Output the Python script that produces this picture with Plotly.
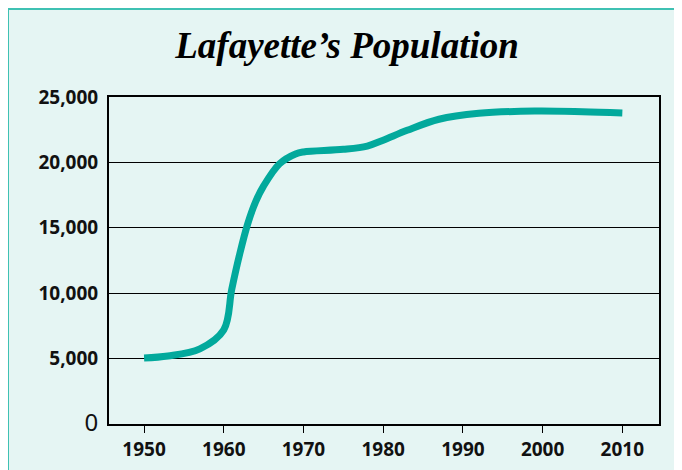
import plotly.graph_objects as go

years = [1950, 1953, 1957, 1960, 1961, 1962, 1963, 1964, 1965, 1967, 1969, 1970, 1975, 1978, 1980, 1983, 1987, 1992, 1999, 2005, 2010]
population = [5050, 5200, 5750, 7200, 10300, 13000, 15300, 17000, 18200, 19900, 20650, 20800, 21000, 21250, 21700, 22450, 23300, 23750, 23930, 23880, 23780]

x_ticks = [1950, 1960, 1970, 1980, 1990, 2000, 2010]
y_ticks = [0, 5000, 10000, 15000, 20000, 25000]
y_ticktext = ['<span style="font-size:24px;font-weight:normal">0</span>', "5,000", "10,000", "15,000", "20,000", "25,000"]

TEAL = "#02A99C"
MINT = "#E5F5F3"
BORDER = "#3FC1B3"

fig = go.Figure()
fig.add_trace(go.Scatter(
    x=years, y=population, mode="lines",
    line=dict(color=TEAL, width=7, shape="spline", smoothing=1.0),
    hoverinfo="skip", showlegend=False,
))

# page body has an 8px margin, so the figure is sized to fit the window
W, H = 674, 462
L, R, T, B = 101, 23, 89, 46
pw, ph = W - L - R, H - T - B

def px_x(p):
    return (p - L) / pw

def px_y(p):
    return (H - B - p) / ph

fig.add_shape(type="rect", xref="paper", yref="paper",
              x0=px_x(0), x1=px_x(720), y0=px_y(1), y1=px_y(500),
              fillcolor=MINT, line=dict(color=BORDER, width=2), layer="below")

fig.update_layout(
    width=W, height=H,
    margin=dict(l=L, r=R, t=T, b=B, autoexpand=False),
    paper_bgcolor="white",
    plot_bgcolor="white",
    title=dict(text="Lafayette’s Population", x=0.503, xanchor="center", y=1 - 37 / H, yanchor="middle",
               font=dict(family="Liberation Serif", size=37, color="black", weight="bold", style="italic")),
    xaxis=dict(range=[1945.6, 2014.6], tickvals=x_ticks, ticktext=[str(v) for v in x_ticks],
               automargin=False,
               ticks="outside", ticklen=7, tickwidth=1, tickcolor="black",
               showgrid=False, zeroline=False, showline=True, linecolor="black", linewidth=2, mirror=True,
               tickfont=dict(family="Noto Sans", size=19, color="#111", weight="bold")),
    yaxis=dict(range=[0, 25000], tickvals=y_ticks, ticktext=y_ticktext,
               automargin=False,
               ticks="", ticklabelstandoff=5,
               showgrid=True, gridcolor="black", gridwidth=1, zeroline=False,
               showline=True, linecolor="black", linewidth=2, mirror=True,
               tickfont=dict(family="Noto Sans", size=19, color="#111", weight="bold")),
)

fig.write_html("out.html")
